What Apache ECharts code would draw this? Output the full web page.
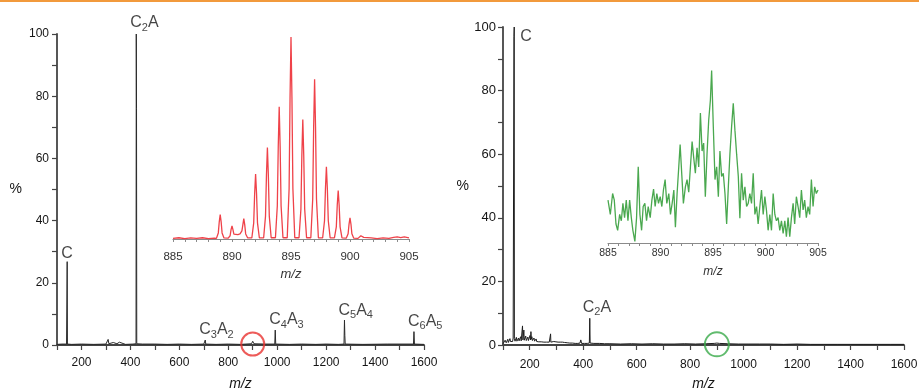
<!DOCTYPE html>
<html>
<head>
<meta charset="utf-8">
<script src="https://cdn.jsdelivr.net/npm/echarts@6/dist/echarts.min.js"></script>
<style>
  html, body { margin: 0; padding: 0; background: #fff; }
  #chart { width: 919px; height: 390px; }
</style>
</head>
<body>
<div id="chart"></div>
<script>
// ---- Spectrum A (left): [m/z, relative intensity %] ----
const spectrumA = [
  [100,0.2],[120,0.3],[139,0.3],[140.5,0.3],[141.6,26.8],[142.7,0.3],[160,0.2],[200,0.3],
  [250,0.2],[300,0.3],[306,0.4],[309,1.8],[312,0.4],[317,1.0],[320,0.3],[330,0.8],[333,0.3],
  [345,0.4],[355,0.9],[358,0.3],[380,0.2],[410,0.3],[423,0.4],[424,100],[425,76],[426,0.4],
  [450,0.3],[500,0.3],[550,0.2],[600,0.3],[650,0.2],[700,0.3],[704,0.3],[706,1.6],[708,0.3],
  [750,0.2],[800,0.3],[850,0.2],[895,0.4],[900,1.2],[905,0.4],[950,0.3],[990,0.3],[992,4.8],
  [994,0.3],[1050,0.2],[1100,0.3],[1158,0.2],[1160,0.6],[1162,0.2],[1200,0.3],[1250,0.2],
  [1273,0.3],[1275,8.0],[1276.5,3.0],[1278,0.3],[1350,0.2],[1450,0.3],[1557,0.3],[1559,4.3],
  [1561,0.3],[1600,0.2]
];

// ---- Spectrum B (right) ----
const spectrumB = [
  [100,0.4],[103,1.0],[105,0.6],[108,1.5],[110,1.0],[112,0.7],[114,1.3],[116,0.9],[118,1.8],
  [120,0.8],[122,1.4],[124,1.0],[126,2.0],[128,1.1],[130,1.5],[132,0.9],[134,1.6],[136,1.1],
  [138,2.2],[140.5,1.8],[141,97],[142,100],[142.6,2.0],[145,1.2],[147,1.6],[149,1.1],[150,2.4],
  [152,1.2],[154,1.7],[156,1.1],[158,2.2],[160,1.3],[162,1.8],[164,1.2],[166,2.6],[168,1.3],
  [170,1.8],[171.5,1.4],[173,6.0],[174.5,1.6],[176,2.0],[178,4.7],[179.5,1.5],[181,1.9],[183,1.3],
  [185,2.8],[187,1.4],[189,1.9],[191,1.3],[193,2.5],[195,1.4],[197,1.8],[199,1.5],[201,3.0],
  [203,1.6],[204.5,4.2],[206,1.8],[208,2.6],[210,1.4],[212,1.9],[214,1.2],[216,2.2],[218,1.2],
  [220,1.6],[222,1.1],[224,1.9],[226,1.1],[228,1.5],[230,1.0],[232,1.7],[234,1.0],[236,1.4],
  [238,1.0],[240,1.6],[243,1.0],[245,1.3],[248,0.9],[250,1.5],[253,0.9],[255,1.2],[258,0.9],
  [260,1.4],[263,0.9],[265,1.1],[268,0.8],[270,1.2],[273,0.9],[275,1.0],[277,0.9],[278,3.5],
  [279,0.9],[282,1.1],[286,0.9],[290,1.1],[294,0.8],[298,1.0],[302,0.8],[306,0.9],[310,0.8],
  [314,0.9],[318,0.7],[322,0.9],[326,0.7],[330,0.8],[335,0.6],[340,0.7],[345,0.6],[350,0.6],
  [355,0.5],[360,0.6],[370,0.5],[380,0.5],[388,0.6],[391,1.6],[394,0.5],[405,0.5],[415,0.5],
  [423,0.6],[424.6,8.4],[426,0.6],[440,0.5],[460,0.5],[480,0.4],[500,0.4],[540,0.3],[580,0.4],
  [620,0.3],[660,0.4],[700,0.3],[740,0.3],[780,0.4],[820,0.3],[860,0.4],[890,0.5],[900,0.6],
  [910,0.5],[940,0.4],[980,0.3],[1020,0.3],[1060,0.3],[1100,0.3],[1150,0.2],[1200,0.3],
  [1250,0.2],[1300,0.2],[1350,0.2],[1400,0.2],[1450,0.2],[1500,0.2],[1550,0.2],[1600,0.2]
];

// ---- Isotope pattern of the m/z 895 cluster, spectrum A (inset, 100 = base peak) ----
const insetA = [
  [885,0.3],[885.5,0.6],[886,0.2],[886.5,0.5],[887,0.3],[887.5,0.6],[888,0.2],[888.5,0.4],
  [888.68,0.3],[888.84,3],[888.92,8.5],[889,12.1],[889.08,8.5],[889.16,3],[889.32,0.5],
  [889.68,0.4],[889.84,1.6],[889.92,4.6],[890,6.5],[890.08,4.6],[890.16,2.4],[890.32,2],[890.5,2.2],[890.68,2.5],
  [890.84,4],[890.92,7],[891,10.1],[891.08,7],[891.16,2.5],[891.32,0.6],
  [891.68,0.5],[891.84,8],[891.92,22.5],[892,32.2],[892.08,22.5],[892.16,8],[892.32,0.5],
  [892.68,0.5],[892.84,11.3],[892.92,31.7],[893,45.3],[893.08,31.7],[893.16,11.3],[893.32,0.6],
  [893.68,0.6],[893.84,16.4],[893.92,45.8],[894,65.4],[894.08,45.8],[894.16,16.4],[894.32,0.6],
  [894.68,0.6],[894.84,25],[894.92,70],[895,100],[895.08,70],[895.16,25],[895.32,0.6],
  [895.68,0.6],[895.84,14.8],[895.92,41.4],[896,59.2],[896.08,41.4],[896.16,14.8],[896.32,0.6],
  [896.68,0.6],[896.84,19.8],[896.92,55.4],[897,79.1],[897.08,55.4],[897.16,19.8],[897.32,0.6],
  [897.68,0.5],[897.84,9],[897.92,25],[898,35.8],[898.08,25],[898.16,9],[898.32,0.5],
  [898.68,0.5],[898.84,6],[898.92,16.8],[899,24],[899.08,16.8],[899.16,6],[899.32,0.5],
  [899.68,0.4],[899.84,2.6],[899.92,7.4],[900,10.5],[900.08,7.4],[900.16,2.6],[900.32,0.4],
  [900.68,0.3],[900.84,0.9],[900.92,1.6],[901,2.3],[901.08,1.6],[901.16,0.8],[901.32,0.3],
  [901.8,0.5],[902.3,0.2],[902.8,0.5],[903.3,0.3],[903.7,0.8],[904,1.0],[904.3,0.7],[904.6,1.0],[905,0.5]
];

// ---- m/z 885-905 region of spectrum B (inset, same % scale) ----
const insetB = [
  [885.00,45.5],[885.22,41],[885.44,47.6],[885.60,45.5],[885.76,38],[885.92,36],[886.11,41],
  [886.27,39],[886.42,44.5],[886.58,40],[886.74,45.5],[886.90,39],[887.06,45.5],[887.22,40],
  [887.37,36],[887.56,32.5],[887.72,40],[887.88,56],[888.04,41],[888.20,36],[888.35,43.5],
  [888.51,44.5],[888.67,39],[888.83,43.5],[889.02,40],[889.18,45.5],[889.34,49],[889.49,43.5],
  [889.65,47.6],[889.81,44.5],[889.97,46.6],[890.13,43.5],[890.28,48.7],[890.44,52],[890.60,44.5],
  [890.79,47.6],[890.95,41],[891.11,44.5],[891.27,48.7],[891.42,37],[891.58,47.6],[891.74,56],
  [891.87,63],[892.03,53.4],[892.18,44.5],[892.37,49.7],[892.53,52],[892.69,48],[892.85,56],
  [893.01,64],[893.16,59],[893.32,54],[893.48,62],[893.64,56],[893.80,73],[893.96,61],
  [894.11,63.5],[894.27,46.6],[894.43,60],[894.59,70.7],[894.75,77],[894.87,86.4],[895.03,68.6],
  [895.19,52],[895.35,56],[895.51,46.6],[895.66,61],[895.82,53],[895.98,54],[896.14,47.6],
  [896.30,38],[896.46,49.7],[896.61,60],[896.77,68.6],[896.93,76],[897.09,67.5],[897.25,60],
  [897.41,53],[897.56,39.8],[897.72,54],[897.88,45.5],[898.04,49.7],[898.20,43.5],[898.35,44.5],
  [898.51,47.6],[898.67,44.5],[898.83,54],[898.99,41],[899.15,43.5],[899.30,38],[899.46,43.5],
  [899.62,48.7],[899.78,41],[899.94,46.6],[900.09,42.4],[900.25,36],[900.41,41],[900.57,36],
  [900.73,47.6],[900.89,41],[901.04,39],[901.20,40],[901.36,36],[901.52,39],[901.68,35],
  [901.84,39],[901.99,34],[902.15,40],[902.31,34],[902.47,40],[902.63,44.5],[902.78,38],
  [902.94,46.6],[903.10,43.5],[903.26,40],[903.42,48.7],[903.58,42.4],[903.73,45.5],[903.89,40],
  [904.05,43.5],[904.21,41],[904.37,52],[904.53,43.5],[904.68,49.7],[904.84,47.6],[905.00,48.7]
];

// ---- Peak assignments: [name, m/z, intensity] ----
const peakNamesA = ['C', 'C2A', 'C3A2', 'C4A3', 'C5A4', 'C6A5'];
const peakMzA    = [141.6, 424, 706, 992, 1275, 1559];
const peakIntA   = [26.8, 100, 1.6, 4.8, 8.0, 4.3];
const peakNamesB = ['C', 'C2A'];
const peakMzB    = [142, 424.6];
const peakIntB   = [100, 8.4];

// highlighted cluster shown in the insets
const clusterMz = 900;

// axis tick labels
const mzTicks = [200, 400, 600, 800, 1000, 1200, 1400, 1600];
const pctTicks = [0, 20, 40, 60, 80, 100];
const insetTicks = [885, 890, 895, 900, 905];

const FONT = '"Liberation Sans", Arial, sans-serif';
const AXIS_COLOR = '#444';
const TEXT = '#151515';

function labelFormatter(p) {
  return p.data.name.replace(/(\d)/g, '{s|$1}');
}

function labelSeries(xi, names, mz, ints, offsets) {
  return {
    type: 'scatter', xAxisIndex: xi, yAxisIndex: xi, silent: true,
    symbolSize: 0, z: 5,
    data: names.map((n, i) => ({
      name: n, value: [mz[i], ints[i]],
      label: { position: offsets[i] }
    })),
    label: {
      show: true, formatter: labelFormatter,
      fontFamily: FONT, fontSize: 16, lineHeight: 20, color: TEXT,
      rich: { s: { fontFamily: FONT, fontSize: 11, lineHeight: 11, verticalAlign: 'bottom', color: TEXT } }
    }
  };
}

function mainX(gi, fs, margin, gap, nameSize) {
  return {
    type: 'value', gridIndex: gi, min: 100, max: 1600, interval: 100, offset: 2,
    axisLine: { show: true, lineStyle: { color: AXIS_COLOR, width: 1.8 } },
    axisTick: { show: true, length: 5, lineStyle: { color: AXIS_COLOR, width: 1.2 } },
    splitLine: { show: false },
    axisLabel: {
      fontFamily: FONT, fontSize: fs, color: TEXT, margin: margin,
      formatter: v => (mzTicks.indexOf(v) >= 0 ? String(v) : '')
    },
    name: 'm/z', nameLocation: 'middle', nameGap: gap,
    nameTextStyle: { fontFamily: FONT, fontStyle: 'italic', fontSize: nameSize, color: TEXT }
  };
}

function mainY(gi, fs, margin, gap) {
  return {
    type: 'value', gridIndex: gi, min: 0, max: 100, interval: 10,
    axisLine: { show: true, lineStyle: { color: AXIS_COLOR, width: 1.8 } },
    axisTick: { show: true, length: 5, lineStyle: { color: AXIS_COLOR, width: 1.2 } },
    splitLine: { show: false },
    axisLabel: {
      fontFamily: FONT, fontSize: fs, color: TEXT, margin: margin,
      formatter: v => (pctTicks.indexOf(v) >= 0 ? String(v) : '')
    },
    name: '%', nameLocation: 'middle', nameRotate: 0, nameGap: gap,
    nameTextStyle: { fontFamily: FONT, fontSize: 14, color: TEXT }
  };
}

function insetX(gi, fs, margin, gap, nameSize) {
  return {
    type: 'value', gridIndex: gi, min: 885, max: 905, interval: 5,
    axisLine: { show: true, lineStyle: { color: '#8a8a8a', width: 1.2 } },
    axisTick: { show: true, length: 3, lineStyle: { color: '#8a8a8a' } },
    minorTick: { show: true, splitNumber: 5, length: 3, lineStyle: { color: '#8a8a8a' } },
    splitLine: { show: false },
    axisLabel: {
      fontFamily: FONT, fontSize: fs, color: '#333', margin: margin,
      formatter: v => (insetTicks.indexOf(v) >= 0 ? String(v) : '')
    },
    name: 'm/z', nameLocation: 'middle', nameGap: gap,
    nameTextStyle: { fontFamily: FONT, fontStyle: 'italic', fontSize: nameSize, color: '#333' }
  };
}

const chart = echarts.init(document.getElementById('chart'), null, { renderer: 'canvas' });

// fixed plot rectangles: no automatic shrinking to fit axis labels
const gridBase = { containLabel: false, outerBoundsMode: 'none' };

chart.setOption({
  animation: false,
  backgroundColor: '#fff',
  graphic: [
    { type: 'rect', left: 0, top: 0, shape: { width: 919, height: 2 }, style: { fill: '#f29a3c' }, silent: true }
  ],
  grid: [
    Object.assign({ left: 57, top: 34, width: 367, height: 311 }, gridBase),
    Object.assign({ left: 503, top: 27, width: 401, height: 318 }, gridBase),
    Object.assign({ left: 173, top: 37, width: 236, height: 204 }, gridBase),
    Object.assign({ left: 608, top: 59, width: 210, height: 184 }, gridBase)
  ],
  xAxis: [
    mainX(0, 12, 10, 30, 14),
    mainX(1, 12, 12, 30, 14),
    insetX(2, 11.5, 10, 27, 13),
    insetX(3, 10.5, 5, 23, 12)
  ],
  yAxis: [
    mainY(0, 12, 8, 35),
    mainY(1, 13, 7, 34),
    { type: 'value', gridIndex: 2, min: -1, max: 100, show: false },
    { type: 'value', gridIndex: 3, min: 32, max: 90, show: false }
  ],
  series: [
    {
      type: 'line', xAxisIndex: 0, yAxisIndex: 0, data: spectrumA, symbol: 'none',
      silent: true, lineStyle: { color: '#2a2a2a', width: 1 }
    },
    {
      type: 'line', xAxisIndex: 1, yAxisIndex: 1, data: spectrumB, symbol: 'none',
      silent: true, lineStyle: { color: '#1e1e1e', width: 1 }
    },
    {
      type: 'line', xAxisIndex: 2, yAxisIndex: 2, data: insetA, symbol: 'none',
      silent: true, lineStyle: { color: '#ef4249', width: 1.3 }
    },
    {
      type: 'line', xAxisIndex: 3, yAxisIndex: 3, data: insetB, symbol: 'none',
      silent: true, lineStyle: { color: '#4aa84f', width: 1.3 }
    },
    labelSeries(0, peakNamesA, peakMzA, peakIntA,
      [[-6, -18], [-6, -21], [-6, -20], [-6, -20], [-6, -20], [-6, -20]]),
    labelSeries(1, peakNamesB, peakMzB, peakIntB, [[6, 0], [-7, -21]]),
    {
      type: 'scatter', xAxisIndex: 0, yAxisIndex: 0, silent: true, z: 6,
      data: [[clusterMz, 0.3]], symbol: 'circle', symbolSize: 23,
      itemStyle: { color: 'rgba(0,0,0,0)', borderColor: '#e8322f', borderWidth: 2 }
    },
    {
      type: 'scatter', xAxisIndex: 1, yAxisIndex: 1, silent: true, z: 6,
      data: [[clusterMz, 0.2]], symbol: 'circle', symbolSize: 24,
      itemStyle: { color: 'rgba(0,0,0,0)', borderColor: '#3aaa4a', borderWidth: 2 }
    }
  ]
});
</script>
</body>
</html>
